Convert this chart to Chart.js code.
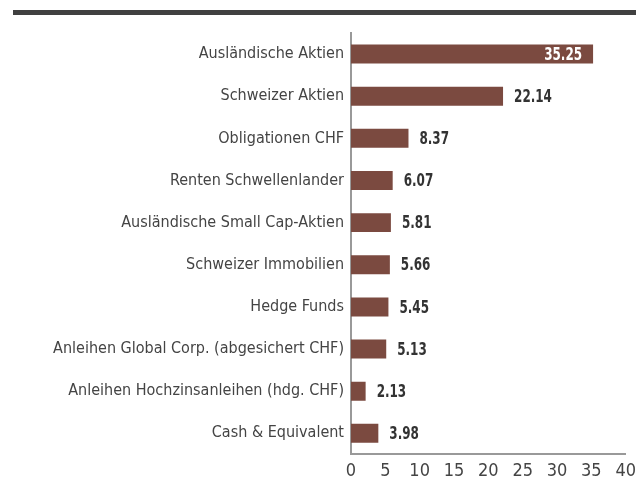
<!DOCTYPE html>
<html>
<head>
<meta charset="utf-8">
<script src="https://cdn.jsdelivr.net/npm/chart.js@4"></script>
<style>
  html, body { margin: 0; padding: 0; background: #fff; }
  #wrap { width: 642px; height: 493px; position: relative; }
</style>
</head>
<body>
<div id="wrap"><canvas id="allocChart"></canvas></div>
<script>
// Data
const categories = [
  "Ausländische Aktien",
  "Schweizer Aktien",
  "Obligationen CHF",
  "Renten Schwellenlander",
  "Ausländische Small Cap-Aktien",
  "Schweizer Immobilien",
  "Hedge Funds",
  "Anleihen Global Corp. (abgesichert CHF)",
  "Anleihen Hochzinsanleihen (hdg. CHF)",
  "Cash & Equivalent",
];
const weights = [35.25, 22.14, 8.37, 6.07, 5.81, 5.66, 5.45, 5.13, 2.13, 3.98];
const xTicks = [0, 5, 10, 15, 20, 25, 30, 35, 40];

const FONT = "'DejaVu Sans Condensed', 'Liberation Sans Narrow', sans-serif";
const BAR_COLOR = "#7b4a40";

// Dark rule across the top
const topRule = {
  id: "topRule",
  beforeDraw: (chart) => {
    const ctx = chart.ctx;
    ctx.save();
    ctx.fillStyle = "#404040";
    ctx.fillRect(13, 10, 623, 5);
    ctx.restore();
  },
};

// Value labels: inside (white) for the widest bar, outside otherwise
const valueLabels = {
  id: "valueLabels",
  afterDatasetsDraw: (chart) => {
    const ctx = chart.ctx;
    const meta = chart.getDatasetMeta(0);
    const maxVal = Math.max(...weights);
    const sx = 0.74;
    ctx.save();
    ctx.font = "bold 18px " + FONT;
    ctx.textBaseline = "middle";
    meta.data.forEach((bar, i) => {
      const v = weights[i];
      const txt = v.toFixed(2);
      ctx.save();
      if (v === maxVal) {
        ctx.fillStyle = "#ffffff";
        ctx.textAlign = "right";
        ctx.translate(bar.x - 11, bar.y + 1);
      } else {
        ctx.fillStyle = "#333333";
        ctx.textAlign = "left";
        ctx.translate(bar.x + 11, bar.y + 1);
      }
      ctx.scale(sx, 1);
      ctx.fillText(txt, 0, 0);
      ctx.restore();
    });
    ctx.restore();
  },
};

const ctx = document.getElementById("allocChart").getContext("2d");
new Chart(ctx, {
  type: "bar",
  data: {
    labels: categories,
    datasets: [
      {
        data: weights,
        backgroundColor: BAR_COLOR,
        barPercentage: 0.45,
        categoryPercentage: 1.0,
      },
    ],
  },
  options: {
    indexAxis: "y",
    responsive: true,
    maintainAspectRatio: false,
    animation: false,
    layout: { padding: { top: 33, right: 16, left: 0, bottom: 5 } },
    plugins: {
      legend: { display: false },
      tooltip: { enabled: false },
    },
    scales: {
      x: {
        min: 0,
        max: 40,
        afterBuildTicks: (scale) => {
          scale.ticks = xTicks.map((v) => ({ value: v }));
        },
        grid: { display: false, drawTicks: false },
        border: { display: true, color: "#999999", width: 2 },
        ticks: {
          color: "#444444",
          font: { family: FONT, size: 18 },
          padding: 6,
        },
      },
      y: {
        afterFit: (scale) => {
          scale.width = 351;
        },
        grid: { display: false, drawTicks: false },
        border: { display: true, color: "#999999", width: 2 },
        ticks: {
          color: "#444444",
          font: { family: FONT, size: 16 },
          padding: 7,
        },
      },
    },
  },
  plugins: [topRule, valueLabels],
});
</script>
</body>
</html>
